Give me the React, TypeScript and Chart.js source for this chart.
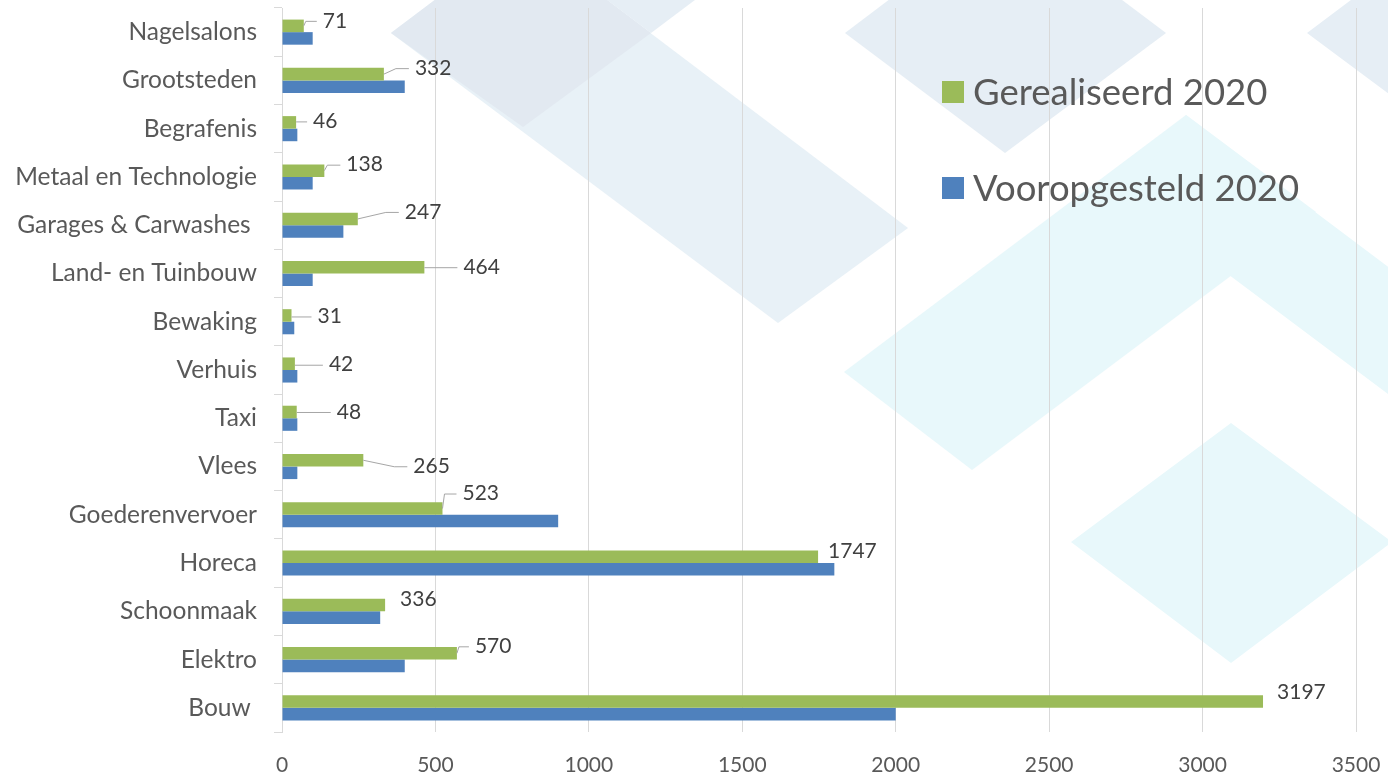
import React, { useEffect, useRef } from "react";
import { Chart, registerables } from "chart.js";

Chart.register(...registerables);

const categories = [
  "Nagelsalons",
  "Grootsteden",
  "Begrafenis",
  "Metaal en Technologie",
  "Garages & Carwashes ",
  "Land- en Tuinbouw",
  "Bewaking",
  "Verhuis",
  "Taxi",
  "Vlees",
  "Goederenvervoer",
  "Horeca",
  "Schoonmaak",
  "Elektro",
  "Bouw ",
];
const gerealiseerd = [71, 332, 46, 138, 247, 464, 31, 42, 48, 265, 523, 1747, 336, 570, 3197];
const vooropgesteld = [100, 400, 50, 100, 200, 100, 40, 50, 50, 50, 900, 1800, 320, 400, 2000];
const xMin = 0;
const xMax = 3500;
const xStep = 500;
const seriesNames = ["Gerealiseerd 2020", "Vooropgesteld 2020"];

// value-label placement (px offsets of the label from the bar end) and leader lines
const labelDx = [19, 31, 17, 22, 47, 39, 26, 34, 40, 50, 20, 10, 15, 18, 14];
const labelDy = [-5, -6, -1, -6, -7, 0, 1, 1, 0, 6, -15, -6, -6, -7, -9];
const labelLeader = [true, true, true, true, true, true, true, true, true, true, true, false, false, true, false];

const GREEN = "#9BBB59";
const BLUE = "#4F81BD";
const FONT = "Lato, 'Open Sans', sans-serif";

const backdropPlugin = {
  id: "backdrop",
  beforeDraw(chart: any) {
    const ctx = chart.ctx;
    ctx.save();
    ctx.fillStyle = "#ffffff";
    ctx.fillRect(0, 0, chart.width, chart.height);
    const poly = (pts: number[][], color: string) => {
      ctx.beginPath();
      ctx.moveTo(pts[0][0], pts[0][1]);
      for (let i = 1; i < pts.length; i++) ctx.lineTo(pts[i][0], pts[i][1]);
      ctx.closePath();
      ctx.fillStyle = color;
      ctx.fill();
    };
    // decorative diamonds
    poly([[391, 33], [521, -65], [908, 228], [778, 323]], "#e8f1f7");
    poly([[391, 33], [523, 127], [651, 33], [521, -65]], "#e2e9f1");
    poly([[490, -88], [651, -210], [812, -88], [651, 33]], "#e6eef5");
    poly([[845, 33], [1005, -88], [1166, 33], [1005, 153]], "#e6eef5");
    poly([[1307, 33], [1468, -88], [1629, 33], [1468, 153]], "#e6eef5");
    poly([[844, 372], [1186, 115], [1316, 212], [972, 470]], "#e8f8fb");
    poly([[1186, 115], [1125, 197], [1640, 583], [1700, 501]], "#e8f8fb");
    poly([[1071, 542], [1231, 423], [1392, 542], [1231, 663]], "#e8f8fb");
    ctx.restore();
  },
};

const labelPlugin = {
  id: "valueLabels",
  afterDatasetsDraw(chart: any) {
    const ctx = chart.ctx;
    const meta = chart.getDatasetMeta(0);
    ctx.save();
    ctx.font = `21px ${FONT}`;
    ctx.fillStyle = "#404040";
    ctx.textAlign = "left";
    ctx.textBaseline = "middle";
    meta.data.forEach((bar: any, i: number) => {
      const x0 = bar.x;
      const y0 = bar.y;
      const tx = x0 + labelDx[i];
      const ty = y0 + labelDy[i];
      if (labelLeader[i]) {
        ctx.strokeStyle = "#a6a6a6";
        ctx.lineWidth = 1;
        const endX = tx - 6;
        ctx.beginPath();
        if (Math.abs(labelDy[i]) < 2) {
          ctx.moveTo(x0, ty + 0.5);
          ctx.lineTo(endX, ty + 0.5);
        } else {
          const hStart = Math.max(x0 + 2, endX - 13);
          ctx.moveTo(x0, y0);
          ctx.lineTo(hStart, ty + 0.5);
          ctx.lineTo(endX, ty + 0.5);
        }
        ctx.stroke();
      }
      ctx.fillText(String(gerealiseerd[i]), tx, ty);
    });
    ctx.restore();
  },
};

const legendPlugin = {
  id: "customLegend",
  afterDraw(chart: any) {
    const ctx = chart.ctx;
    ctx.save();
    const colors = [GREEN, BLUE];
    const ys = [92, 188];
    ctx.font = `36.5px ${FONT}`;
    ctx.textAlign = "left";
    ctx.textBaseline = "middle";
    seriesNames.forEach((name, i) => {
      ctx.fillStyle = colors[i];
      ctx.fillRect(942, ys[i] - 11, 22, 22);
      ctx.fillStyle = "#595959";
      ctx.fillText(name, 973, ys[i] + 1);
    });
    ctx.restore();
  },
};

export default function App() {
  const canvasRef = useRef<HTMLCanvasElement | null>(null);

  useEffect(() => {
    if (!canvasRef.current) return;
    const chart = new Chart(canvasRef.current, {
      type: "bar",
      data: {
        labels: categories,
        datasets: [
          {
            label: seriesNames[0],
            data: gerealiseerd,
            backgroundColor: GREEN,
            borderWidth: 0,
            barPercentage: 1,
            categoryPercentage: 0.52,
          },
          {
            label: seriesNames[1],
            data: vooropgesteld,
            backgroundColor: BLUE,
            borderWidth: 0,
            barPercentage: 1,
            categoryPercentage: 0.52,
          },
        ],
      },
      options: {
        indexAxis: "y",
        animation: false,
        responsive: true,
        maintainAspectRatio: false,
        layout: { padding: { top: 8, right: 32, left: 0, bottom: 0 } },
        plugins: {
          legend: { display: false },
          tooltip: { enabled: false },
        },
        scales: {
          x: {
            type: "linear",
            min: xMin,
            max: xMax,
            ticks: {
              stepSize: xStep,
              color: "#595959",
              font: { family: FONT, size: 21 },
              padding: 21,
              callback: (v: any) => String(v),
            },
            grid: { color: "#d9d9d9", lineWidth: 1, drawTicks: false },
            border: { display: false },
            afterFit(scale: any) {
              scale.height = 44;
              scale.paddingLeft = 0;
              scale.paddingRight = 0;
            },
          },
          y: {
            type: "category",
            ticks: {
              color: "#595959",
              font: { family: FONT, size: 24.5 },
              padding: 17,
              autoSkip: false,
            },
            grid: {
              offset: true,
              drawOnChartArea: false,
              drawTicks: true,
              tickLength: 8,
              color: "#d9d9d9",
            },
            border: { display: true, color: "#d9d9d9" },
            afterFit(scale: any) {
              scale.width = 282;
              scale.paddingTop = 0;
              scale.paddingBottom = 0;
            },
          },
        },
      },
      plugins: [backdropPlugin, labelPlugin, legendPlugin],
    } as any);
    return () => chart.destroy();
  }, []);

  return (
    <div style={{ position: "fixed", left: 0, top: 0, width: 1388, height: 776, background: "#fff" }}>
      <canvas ref={canvasRef} />
    </div>
  );
}
